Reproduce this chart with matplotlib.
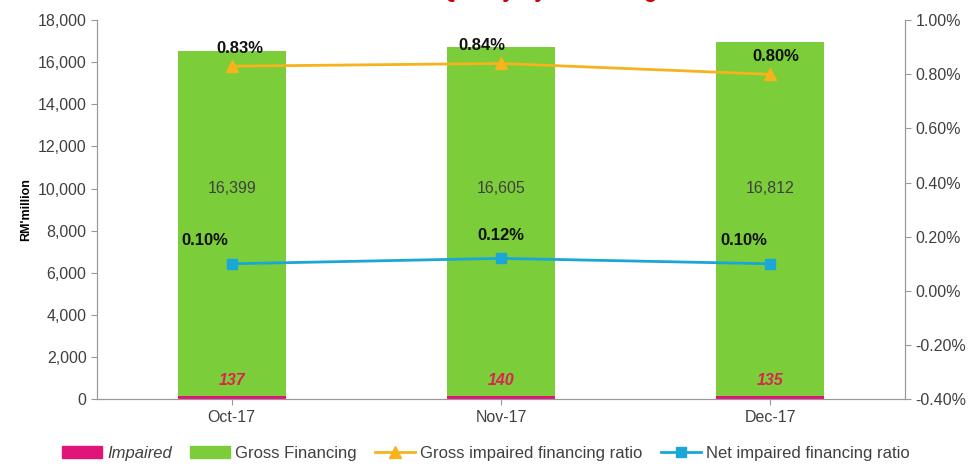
# Gross financing and impaired ratios chart
import matplotlib.pyplot as plt
from matplotlib.ticker import FuncFormatter
from matplotlib.lines import Line2D
from matplotlib.patches import Patch

plt.rcParams['font.family'] = ['Liberation Sans', 'DejaVu Sans']

months = ['Oct-17', 'Nov-17', 'Dec-17']
impaired = [137, 140, 135]
gross_financing = [16399, 16605, 16812]
gross_ratio = [0.83, 0.84, 0.80]
net_ratio = [0.10, 0.12, 0.10]

green = '#7ccd3a'
pink = '#e0157a'
orange = '#f6b31c'
blue = '#1aa7d8'
gray = '#404040'

fig = plt.figure(figsize=(9.72, 4.69), dpi=100)
ax = fig.add_axes([0.0998, 0.149, 0.8312, 0.808])
x = range(len(months))

ax.bar(x, impaired, width=0.4, color=pink)
ax.bar(x, gross_financing, width=0.4, bottom=impaired, color=green)
ax.set_xlim(-0.5, 2.5)
ax.set_ylim(0, 18000)
ax.set_yticks(range(0, 18001, 2000))
ax.yaxis.set_major_formatter(FuncFormatter(lambda v, p: f'{int(v):,}'))
ax.set_xticks(list(x))
ax.set_xticklabels(months)
ax.set_ylabel("RM'million", fontsize=9, fontweight='bold')
ax.tick_params(labelsize=11.5, colors=gray, length=4, color='#999999')

for i in x:
    ax.text(i, 10000, f'{gross_financing[i]:,}', ha='center', va='center',
            fontsize=11.5, color=gray)
    ax.text(i, 900, str(impaired[i]), ha='center', va='center', fontsize=11.5,
            color='#d9254f', style='italic', fontweight='bold')

ax.spines['top'].set_visible(False)
for s in ['left', 'bottom', 'right']:
    ax.spines[s].set_color('#999999')

ax2 = ax.twinx()
ax2.plot(x, gross_ratio, color=orange, marker='^', markersize=8, linewidth=2)
ax2.plot(x, net_ratio, color=blue, marker='s', markersize=7, linewidth=2)
ax2.set_ylim(-0.4, 1.0)
ax2.set_yticks([-0.4, -0.2, 0.0, 0.2, 0.4, 0.6, 0.8, 1.0])
ax2.yaxis.set_major_formatter(FuncFormatter(lambda v, p: f'{v:.2f}%'))
ax2.tick_params(labelsize=11.5, colors=gray, length=4, color='#999999')
ax2.spines['top'].set_visible(False)
for s in ['left', 'bottom', 'right']:
    ax2.spines[s].set_color('#999999')

gross_dx = [0.03, -0.07, 0.02]
net_dx = [-0.1, 0.0, -0.1]
for i in x:
    ax2.text(i + gross_dx[i], gross_ratio[i] + 0.065, f'{gross_ratio[i]:.2f}%',
             ha='center', va='center', fontsize=12, fontweight='bold', color='#111111')
    ax2.text(i + net_dx[i], net_ratio[i] + 0.085, f'{net_ratio[i]:.2f}%',
             ha='center', va='center', fontsize=12, fontweight='bold', color='#111111')

# title is cropped off in the original, only descenders remain
fig.text(0.53, 1.006, 'Asset Quality by Financing', ha='center', va='baseline',
         fontsize=16, fontweight='bold', color='#cc0000')

handles = [Patch(color=pink), Patch(color=green),
           Line2D([], [], color=orange, marker='^', linewidth=2, markersize=8),
           Line2D([], [], color=blue, marker='s', linewidth=2, markersize=7)]
labels = ['Impaired', 'Gross Financing', 'Gross impaired financing ratio',
          'Net impaired financing ratio']
leg = fig.legend(handles, labels, loc='lower center', bbox_to_anchor=(0.5, -0.015),
                 ncol=4, frameon=False, fontsize=12, handlelength=2.4,
                 handletextpad=0.3, columnspacing=1.1)
for t in leg.get_texts():
    t.set_color(gray)
leg.get_texts()[0].set_style('italic')

fig.savefig('out.png', dpi=100)
